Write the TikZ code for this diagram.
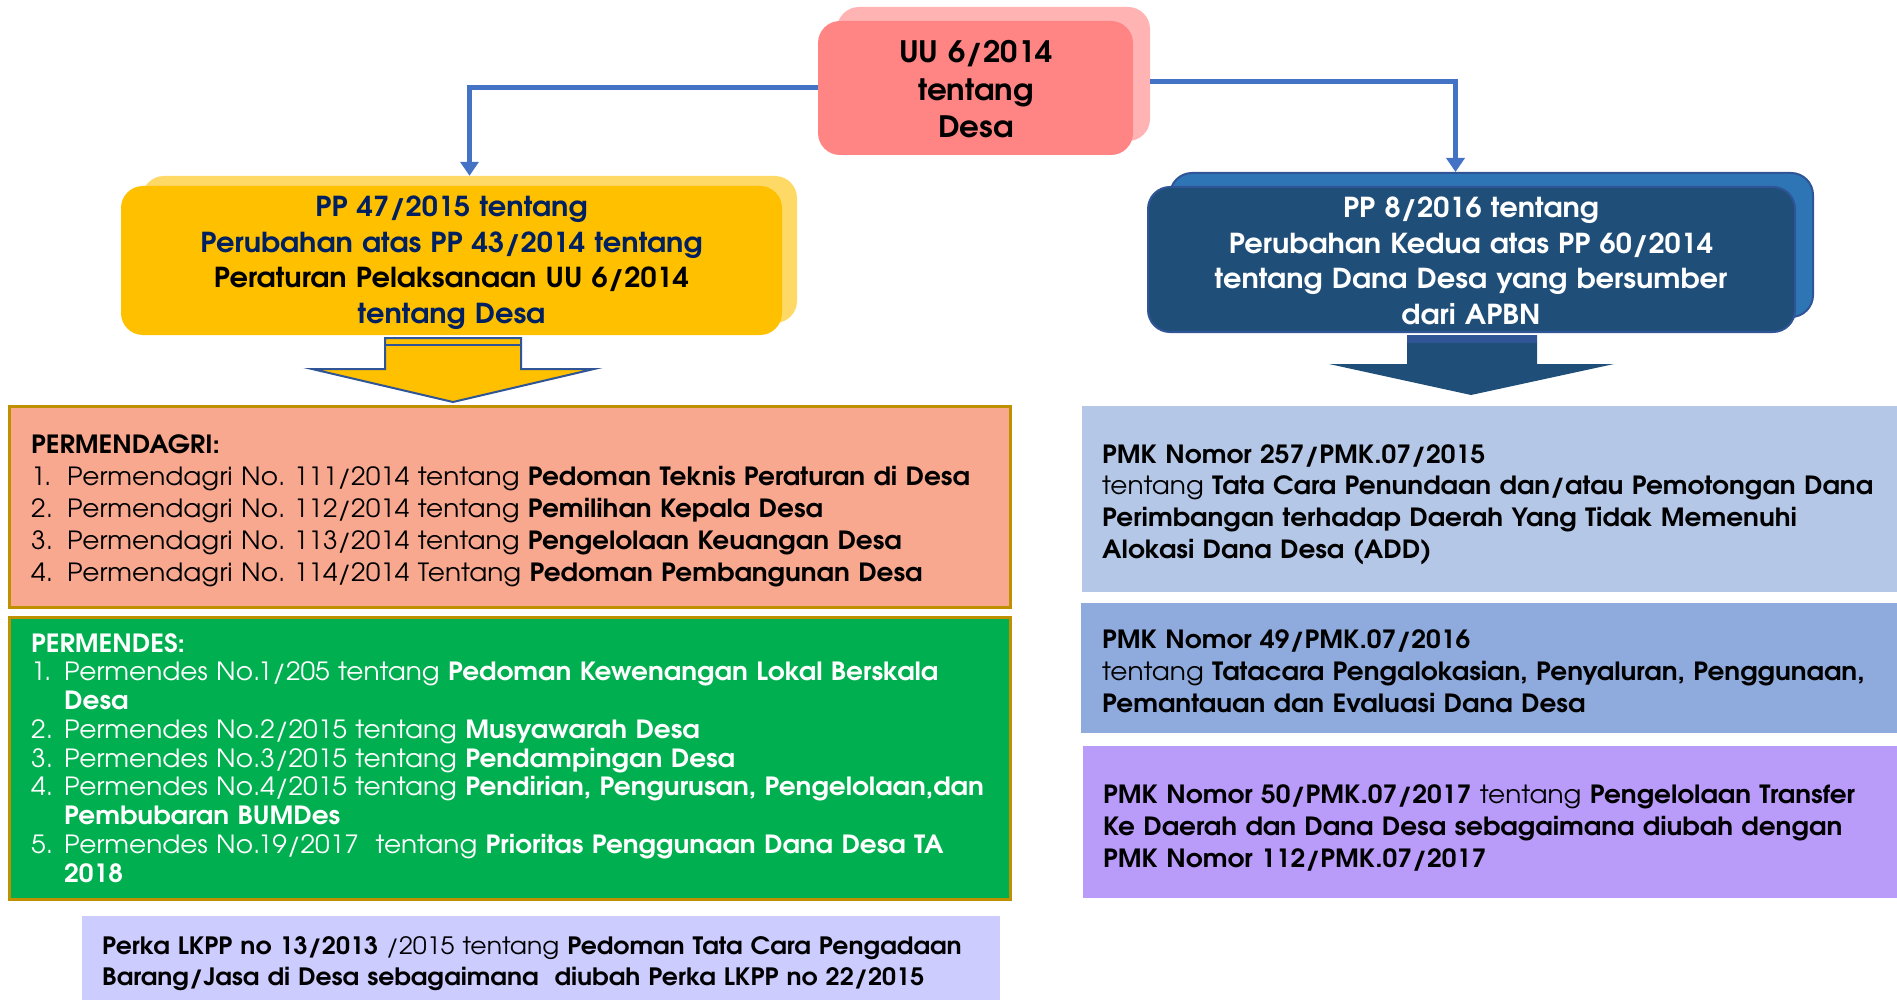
\documentclass[tikz,border=0pt]{standalone}
\usepackage{fontspec}
\setmainfont{texgyreadventor}[Extension=.otf,UprightFont=*-regular,BoldFont=*-bold,FakeStretch=1.05]
\usetikzlibrary{arrows.meta}

\definecolor{uufront}{HTML}{FF8585}
\definecolor{uuback}{HTML}{FFB3B3}
\definecolor{ppyellow}{HTML}{FFC000}
\definecolor{ppyellowback}{HTML}{FFD966}
\definecolor{ppblue}{HTML}{1F4E79}
\definecolor{ppblueback}{HTML}{2E75B6}
\definecolor{ppedge}{HTML}{2F5597}
\definecolor{ppnavy}{HTML}{002060}
\definecolor{linkblue}{HTML}{4472C4}
\definecolor{listedge}{HTML}{BF9000}
\definecolor{mdgfill}{HTML}{F8A88F}
\definecolor{mdsfill}{HTML}{00B050}
\definecolor{perkafill}{HTML}{CCCCFF}
\definecolor{pmkone}{HTML}{B4C7E7}
\definecolor{pmktwo}{HTML}{8FAADC}
\definecolor{pmkthree}{HTML}{B99BFA}

\newcommand{\lnum}[2]{\makebox[#1][l]{#2}}

\tikzset{
  roundbox/.style={rounded corners=22pt, inner sep=0},
  listbox/.style={draw=listedge, line width=3pt, inner sep=0},
  pmkbox/.style={inner sep=0},
  link/.style={draw=linkblue, line width=5pt, -{Triangle[width=18pt,length=14pt]}},
  boxtext/.style={anchor=base, inner sep=0, align=center, text width=800pt,
    font=\bfseries\fontsize{27.5}{35.5}\selectfont},
  listtext/.style={anchor=base west, inner sep=0, align=left, text width=1000pt,
    font=\fontsize{25.1}{32}\selectfont}
}

\begin{document}
\frenchspacing
\begin{tikzpicture}[x=1pt, y=-1pt]
  \useasboundingbox (0,0) rectangle (1897,1000);

  % top law
  \node[roundbox, fill=uuback, minimum width=313pt, minimum height=134pt] (uuback) at (993.5,74) {};
  \node[roundbox, fill=uufront, minimum width=315pt, minimum height=134pt] (uu) at (975.5,88) {};
  \node[boxtext, font=\bfseries\fontsize{29.5}{37.5}\selectfont] (uulabel) at (976,63) {UU 6/2014\\tentang\\Desa};

  % government regulations
  \node[roundbox, fill=ppyellowback, minimum width=655pt, minimum height=147pt] (pp47back) at (469.5,249.5) {};
  \node[roundbox, fill=ppyellow, minimum width=661pt, minimum height=149pt] (pp47) at (451.5,260.5) {};
  \node[boxtext, text=ppnavy] (pp47label) at (451.5,217)
    {PP 47/2015 tentang\\Perubahan atas PP 43/2014 tentang\\\textcolor{black}{Peraturan Pelaksanaan UU 6/2014}\\tentang Desa};

  \node[roundbox, draw=ppedge, line width=2pt, fill=ppblueback, minimum width=643pt, minimum height=144pt] (pp8back) at (1491.5,245) {};
  \node[roundbox, draw=ppedge, line width=2pt, fill=ppblue, minimum width=647pt, minimum height=145pt] (pp8) at (1471.5,259.5) {};
  \node[boxtext, text=white] (pp8label) at (1471,218)
    {PP 8/2016 tentang\\Perubahan Kedua atas PP 60/2014\\tentang Dana Desa yang bersumber\\dari APBN};

  \draw[link] (uu.west) -| (pp47back.north);
  \draw[link] ([yshift=-8pt]uuback.east) -| ([xshift=-36pt]pp8back.north);

  % block arrows
  \draw[ppedge, line width=2pt, fill=ppyellow] (385,338) -- (521,338) -- (521,369) -- (594,369)
    -- (453,402) -- (312,369) -- (385,369) -- cycle;
  \draw[ppedge, line width=2pt] (385,345) -- (521,345);
  \fill[ppblue] (1407,335) -- (1537,335) -- (1537,364) -- (1614,364)
    -- (1471,395) -- (1329,364) -- (1407,364) -- cycle;
  \fill[ppedge] (1407,335) rectangle (1537,343);

  % ministerial regulations
  \node[listbox, fill=mdgfill, minimum width=1001pt, minimum height=201pt] (mdg) at (509.5,506.5) {};
  \node[listtext] (mdglabel) at (31,453)
    {\textbf{PERMENDAGRI:}\\
     \lnum{36pt}{1.}Permendagri No. 111/2014 tentang \textbf{Pedoman Teknis Peraturan di Desa}\\
     \lnum{36pt}{2.}Permendagri No. 112/2014 tentang \textbf{Pemilihan Kepala Desa}\\
     \lnum{36pt}{3.}Permendagri No. 113/2014 tentang \textbf{Pengelolaan Keuangan Desa}\\
     \lnum{36pt}{4.}Permendagri No. 114/2014 Tentang \textbf{Pedoman Pembangunan Desa}};

  \node[listbox, fill=mdsfill, minimum width=1001pt, minimum height=282pt] (mds) at (509.5,758) {};
  \node[listtext, text=white, font=\fontsize{25.1}{28.75}\selectfont] (mdslabel) at (31,652)
    {\textbf{PERMENDES:}\\
     \lnum{33pt}{1.}Permendes No.1/205 tentang \textbf{Pedoman Kewenangan Lokal Berskala}\\
     \hspace*{33pt}\textbf{Desa}\\
     \lnum{33pt}{2.}Permendes No.2/2015 tentang \textbf{Musyawarah Desa}\\
     \lnum{33pt}{3.}Permendes No.3/2015 tentang \textbf{Pendampingan Desa}\\
     \lnum{33pt}{4.}Permendes No.4/2015 tentang \textbf{Pendirian, Pengurusan, Pengelolaan,dan}\\
     \hspace*{33pt}\textbf{Pembubaran BUMDes}\\
     \lnum{33pt}{5.}Permendes No.19/2017\ \ tentang \textbf{Prioritas Penggunaan Dana Desa TA}\\
     \hspace*{33pt}\textbf{2018}};

  \node[pmkbox, fill=perkafill, minimum width=918pt, minimum height=86pt] (perka) at (541,959) {};
  \node[listtext, font=\fontsize{23.9}{31}\selectfont] (perkalabel) at (102,954)
    {\textbf{Perka LKPP no 13/2013} /2015 tentang \textbf{Pedoman Tata Cara Pengadaan}\\
     \textbf{Barang/Jasa di Desa sebagaimana\ \ diubah Perka LKPP no 22/2015}};

  % finance ministry regulations
  \node[pmkbox, fill=pmkone, minimum width=817pt, minimum height=186pt] (pmk257) at (1490.5,499) {};
  \node[listtext, font=\fontsize{25.1}{31.7}\selectfont] (pmk257label) at (1102,463)
    {\textbf{PMK Nomor 257/PMK.07/2015}\\
     tentang \textbf{Tata Cara Penundaan dan/atau Pemotongan Dana}\\
     \textbf{Perimbangan terhadap Daerah Yang Tidak Memenuhi}\\
     \textbf{Alokasi Dana Desa (ADD)}};

  \node[pmkbox, fill=pmktwo, minimum width=818pt, minimum height=130pt] (pmk49) at (1490,668) {};
  \node[listtext, font=\fontsize{25.1}{32}\selectfont] (pmk49label) at (1102,648)
    {\textbf{PMK Nomor 49/PMK.07/2016}\\
     tentang \textbf{Tatacara Pengalokasian, Penyaluran, Penggunaan,}\\
     \textbf{Pemantauan dan Evaluasi Dana Desa}};

  \node[pmkbox, fill=pmkthree, minimum width=816pt, minimum height=152pt] (pmk50) at (1491,822) {};
  \node[listtext, font=\fontsize{25.1}{32}\selectfont] (pmk50label) at (1103,803)
    {\textbf{PMK Nomor 50/PMK.07/2017} tentang \textbf{Pengelolaan Transfer}\\
     \textbf{Ke Daerah dan Dana Desa sebagaimana diubah dengan}\\
     \textbf{PMK Nomor 112/PMK.07/2017}};
\end{tikzpicture}
\end{document}
